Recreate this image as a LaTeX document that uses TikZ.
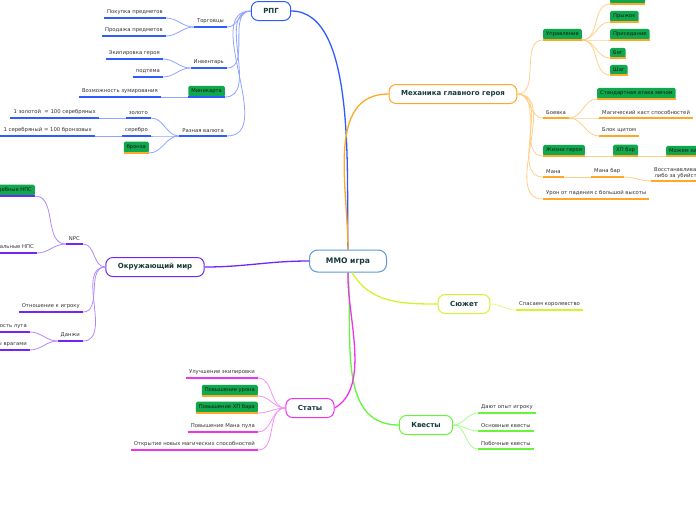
\documentclass[tikz,border=0pt]{standalone}
\usepackage{fontspec}
\setmainfont{DejaVu Sans}
\usetikzlibrary{positioning}

\definecolor{rootc}{HTML}{5B9BD5}
\definecolor{rpgc}{HTML}{2F5BFF}
\definecolor{mechc}{HTML}{FFA726}
\definecolor{worldc}{HTML}{7226F5}
\definecolor{plotc}{HTML}{D4F230}
\definecolor{questc}{HTML}{66F53A}
\definecolor{statc}{HTML}{EE33EE}
\definecolor{tagc}{HTML}{0FA84C}
\definecolor{titlec}{HTML}{163A3A}
\definecolor{leafc}{HTML}{333333}

\begin{document}
\begin{tikzpicture}[
  x=1pt, y=1pt,
  root/.style={draw=rootc, line width=1pt, rounded corners=8pt, fill=white,
               minimum width=77pt, minimum height=22pt, text=titlec,
               font=\fontsize{7.6}{9}\selectfont\bfseries},
  topic/.style={draw=#1, line width=1pt, rounded corners=7pt, fill=white,
                minimum height=19pt, inner xsep=12pt, text=titlec,
                font=\fontsize{7}{8}\selectfont\bfseries},
  leaf/.style={font=\fontsize{5.3}{6.3}\selectfont, text=leafc,
               inner xsep=3pt, inner ysep=3.3pt},
  tag/.style={fill=tagc, rounded corners=1.5pt, text=black!90,
              font=\fontsize{5.2}{6}\selectfont, inner xsep=3pt, inner ysep=3pt},
  ul/.style={draw=#1, line width=1.6pt},
  link/.style={draw=#1!55, line width=0.8pt},
  branch/.style={draw=#1, line width=1.3pt}
]
\useasboundingbox (0,0) rectangle (696,-520);
% --- root and main topics ---
\node[root] (mmo) at (348,-261) {ММО игра};
\node[topic=rpgc] (rpg) at (271,-11) {РПГ};
\node[topic=mechc] (mech) at (453,-94) {Механика главного героя};
\node[topic=worldc] (world) at (155,-267) {Окружающий мир};
\node[topic=plotc] (plot) at (464,-304) {Сюжет};
\node[topic=questc] (quest) at (426,-425) {Квесты};
\node[topic=statc] (stat) at (310,-408) {Статы};
% --- РПГ ---
\node[leaf, anchor=south east] (trade) at (227,-27) {Торговцы};
\node[leaf, anchor=south east] (buy) at (166,-18) {Покупка предметов};
\node[leaf, anchor=south east] (sell) at (166,-36) {Продажа предметов};
\node[leaf, anchor=south east] (inv) at (227,-68) {Инвентарь};
\node[leaf, anchor=south east] (equip) at (163,-59) {Экипировка героя};
\node[leaf, anchor=south east] (subt) at (163,-77) {подтема};
\node[tag, anchor=south east] (map) at (225,-97) {Миникарта};
\node[leaf, anchor=south east] (zoom) at (161,-97) {Возможность зумирования};
\node[leaf, anchor=south east] (money) at (227,-136) {Разная валюта};
\node[leaf, anchor=south east] (gold) at (151,-118) {золото};
\node[leaf, anchor=south east] (goldr) at (99,-118) {1 золотой \ = 100 серебряных};
\node[leaf, anchor=south east] (silver) at (151,-136) {серебро};
\node[leaf, anchor=south east] (silverr) at (95,-136) {1 серебряный = 100 бронзовых};
\node[tag, anchor=south east] (bronze) at (149,-153) {бронза};
% --- Механика главного героя ---
\node[tag, anchor=south west] (ctrl) at (543,-40) {Управление};
\node[tag, anchor=south west] (speed) at (610,-4) {Ускорение};
\node[tag, anchor=south west] (jump) at (610,-22) {Прыжок};
\node[tag, anchor=south west] (crouch) at (610,-40) {Приседание};
\node[tag, anchor=south west] (run) at (610,-58) {Бег};
\node[tag, anchor=south west] (walk) at (610,-75) {Шаг};
\node[leaf, anchor=south west] (fight) at (543,-118) {Боевка};
\node[tag, anchor=south west] (atk) at (597,-99) {Стандартная атака мечом};
\node[leaf, anchor=south west] (cast) at (599,-118) {Магический каст способностей};
\node[leaf, anchor=south west] (block) at (599,-136) {Блок щитом};
\node[tag, anchor=south west] (life) at (543,-156) {Жизни героя};
\node[tag, anchor=south west] (hp) at (613,-156) {ХП бар};
\node[tag, anchor=south west] (heal) at (666,-156) {Можем хилиться};
\node[leaf, anchor=south west] (mana) at (543,-177) {Мана};
\node[leaf, anchor=south west] (manabar) at (591,-177) {Мана бар};
\node[leaf, anchor=south west, align=center, inner ysep=2pt] (regen) at (651,-181)
  {Восстанавливается сама\\либо за убийство врагов};
\node[leaf, anchor=south west] (fall) at (543,-199) {Урон от падения с большой высоты};
% --- Окружающий мир ---
\node[leaf, anchor=south east] (npc) at (83,-244) {NPC};
\node[tag, anchor=south east] (hostile) at (35,-196) {Враждебные НПС};
\node[leaf, anchor=south east] (neutral) at (37,-253) {Нейтральные НПС};
\node[leaf, anchor=south east] (attit) at (83,-312) {Отношение к игроку};
\node[leaf, anchor=south east] (dung) at (83,-341) {Данжи};
\node[leaf, anchor=south east] (loot) at (30,-332) {Редкость лута};
\node[leaf, anchor=south east] (foes) at (30,-350) {Заполнены врагами};
% --- Сюжет, Квесты ---
\node[leaf, anchor=south west] (save) at (516,-310) {Спасаем королевство};
\node[leaf, anchor=south west] (exp) at (478,-413) {Дают опыт игроку};
\node[leaf, anchor=south west] (mainq) at (478,-431) {Основные квесты};
\node[leaf, anchor=south west] (sideq) at (478,-449) {Побочные квесты};
% --- Статы ---
\node[leaf, anchor=south east] (gear) at (258,-378) {Улучшение экипировки};
\node[tag, anchor=south east] (dmg) at (258,-396) {Повышение урона};
\node[tag, anchor=south east] (hpup) at (258,-413) {Повышение ХП бара};
\node[leaf, anchor=south east] (pool) at (258,-432) {Повышение Мана пула};
\node[leaf, anchor=south east] (spells) at (258,-450) {Открытие новых магических способностей};
% --- main branches ---
\draw[branch=rpgc] (mmo.north) to[out=92,in=0,looseness=0.7] (rpg.east);
\draw[branch=mechc] (mmo.north) to[out=90,in=180] (mech.west);
\draw[branch=worldc] (mmo.west) to[out=180,in=0] (world.east);
\draw[branch=plotc] (mmo.290) to[out=-60,in=180] (plot.west);
\draw[branch=questc] (mmo.south) to[out=-85,in=180] (quest.west);
\draw[branch=statc] (mmo.south) to[out=-92,in=30,looseness=0.8] (stat.east);
% --- links, left side ---
\foreach \n in {trade,inv,map,money}
  \draw[link=rpgc] (rpg.west) to[out=180,in=0] (\n.south east);
\foreach \n in {buy,sell}
  \draw[link=rpgc] (trade.south west) to[out=180,in=0] (\n.south east);
\foreach \n in {equip,subt}
  \draw[link=rpgc] (inv.south west) to[out=180,in=0] (\n.south east);
\draw[link=rpgc] (map.south west) -- (zoom.south east);
\foreach \n in {gold,silver,bronze}
  \draw[link=rpgc] (money.south west) to[out=180,in=0] (\n.south east);
\draw[link=rpgc] (gold.south west) -- (goldr.south east);
\draw[link=rpgc] (silver.south west) -- (silverr.south east);
\foreach \n in {npc,attit,dung}
  \draw[link=worldc] (world.west) to[out=180,in=0] (\n.south east);
\foreach \n in {hostile,neutral}
  \draw[link=worldc] (npc.south west) to[out=180,in=0] (\n.south east);
\foreach \n in {loot,foes}
  \draw[link=worldc] (dung.south west) to[out=180,in=0] (\n.south east);
\foreach \n in {gear,dmg,hpup,pool,spells}
  \draw[link=statc] (stat.west) to[out=180,in=0] (\n.south east);
% --- links, right side ---
\foreach \n in {ctrl,fight,life,mana,fall}
  \draw[link=mechc] (mech.east) to[out=0,in=180] (\n.south west);
\foreach \n in {speed,jump,crouch,run,walk}
  \draw[link=mechc] (ctrl.south east) to[out=0,in=180] (\n.south west);
\foreach \n in {atk,cast,block}
  \draw[link=mechc] (fight.south east) to[out=0,in=180] (\n.south west);
\draw[link=mechc] (life.south east) -- (hp.south west);
\draw[link=mechc] (hp.south east) -- (heal.south west);
\draw[link=mechc] (mana.south east) -- (manabar.south west);
\draw[link=mechc] (manabar.south east) to[out=0,in=180] (regen.south west);
\draw[link=plotc] (plot.east) to[out=0,in=180] (save.south west);
\foreach \n in {exp,mainq,sideq}
  \draw[link=questc] (quest.east) to[out=0,in=180] (\n.south west);
% --- underlines ---
\foreach \n in {trade,buy,sell,inv,equip,subt,map,zoom,money,gold,goldr,silver,silverr}
  \draw[ul=rpgc] (\n.south west) -- (\n.south east);
\foreach \n in {bronze,ctrl,speed,jump,crouch,run,walk,fight,atk,cast,block,life,hp,heal,mana,manabar,regen,fall,dmg,hpup}
  \draw[ul=mechc] (\n.south west) -- (\n.south east);
\foreach \n in {npc,hostile,neutral,attit,dung,loot,foes}
  \draw[ul=worldc] (\n.south west) -- (\n.south east);
\draw[ul=plotc] (save.south west) -- (save.south east);
\foreach \n in {exp,mainq,sideq}
  \draw[ul=questc] (\n.south west) -- (\n.south east);
\foreach \n in {gear,pool,spells}
  \draw[ul=statc] (\n.south west) -- (\n.south east);
\end{tikzpicture}
\end{document}
